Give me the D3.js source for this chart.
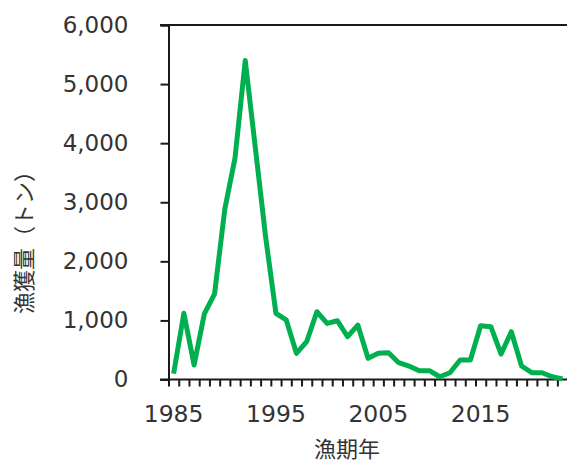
<!DOCTYPE html>
<html>
<head>
<meta charset="utf-8">
<script src="https://cdn.jsdelivr.net/npm/d3@7"></script>
<style>
  body { margin: 0; background: #fff; }
  svg { display: block; }
</style>
</head>
<body>
<svg width="567" height="463"></svg>
<script>
// catch by fishing year
var years = d3.range(1985, 2024);
var catchTons = [100, 1120, 245, 1110, 1450, 2880, 3750, 5400, 3900, 2400,
                 1120, 1010, 443, 640, 1147, 950, 995, 724, 922, 358,
                 443, 453, 284, 228, 149, 149, 47, 115, 330, 330,
                 910, 893, 431, 809, 228, 115, 115, 47, 10];
var yTicks = [0, 1000, 2000, 3000, 4000, 5000, 6000];
var xLabels = [1985, 1995, 2005, 2015];
var yTitle = "漁獲量（トン）";
var xTitle = "漁期年";

var svg = d3.select("svg");
var font = "'DejaVu Sans', Verdana, sans-serif";
var jpFont = "'Noto Sans CJK JP', sans-serif";
var axisColor = "#1a1a1a";
var textColor = "#333";

var plotLeft = 168.5, plotRight = 567.6, plotTop = 25, plotBottom = 379.5;

// category edges: each year takes one slot, the point sits in its middle
var x = d3.scaleLinear().domain([1985, 2024]).range([plotLeft, plotRight]);
var y = d3.scaleLinear().domain([0, 6000]).range([plotBottom, plotTop]);

// top border line
svg.append("line")
    .attr("x1", 160).attr("x2", 567)
    .attr("y1", y(6000)).attr("y2", y(6000))
    .attr("stroke", axisColor).attr("stroke-width", 2);

// y axis
var yAxis = svg.append("g")
    .attr("transform", "translate(" + plotLeft + ",0)")
    .call(d3.axisLeft(y).tickValues(yTicks).tickSize(8).tickPadding(32)
        .tickFormat(d3.format(",")));
yAxis.select(".domain").attr("stroke", axisColor).attr("stroke-width", 2);
yAxis.selectAll(".tick line").attr("stroke", axisColor).attr("stroke-width", 2);
yAxis.selectAll(".tick text")
    .attr("font-family", font).attr("font-size", 23)
    .attr("fill", textColor);

// x axis ticks between categories
var xAxis = svg.append("g")
    .attr("transform", "translate(0," + plotBottom + ")")
    .call(d3.axisBottom(x).tickValues(d3.range(1985, 2025)).tickSize(7).tickFormat(""));
xAxis.select(".domain").remove();
xAxis.selectAll(".tick line").attr("stroke", axisColor).attr("stroke-width", 2);
svg.append("line")
    .attr("x1", 160).attr("x2", 567)
    .attr("y1", plotBottom).attr("y2", plotBottom)
    .attr("stroke", axisColor).attr("stroke-width", 2);

// x labels at category centres
svg.selectAll(".xlab")
    .data(xLabels)
    .enter().append("text")
    .attr("class", "xlab")
    .attr("x", function(d){ return x(d + 0.5); })
    .attr("y", 422)
    .attr("text-anchor", "middle")
    .attr("font-family", font).attr("font-size", 23.5)
    .attr("fill", textColor)
    .text(function(d){ return d; });

// data line
var line = d3.line()
    .x(function(d, i){ return x(years[i] + 0.5); })
    .y(function(d){ return y(d); });

svg.append("path")
    .datum(catchTons)
    .attr("d", line)
    .attr("fill", "none")
    .attr("stroke", "#00B050")
    .attr("stroke-width", 5)
    .attr("stroke-linejoin", "round");

// titles
svg.append("text")
    .attr("transform", "translate(32,237) rotate(-90)")
    .attr("text-anchor", "middle")
    .attr("font-family", jpFont).attr("font-size", 22)
    .attr("fill", textColor)
    .text(yTitle);

svg.append("text")
    .attr("x", 347).attr("y", 457)
    .attr("text-anchor", "middle")
    .attr("font-family", jpFont).attr("font-size", 22)
    .attr("fill", textColor)
    .text(xTitle);
</script>
</body>
</html>
